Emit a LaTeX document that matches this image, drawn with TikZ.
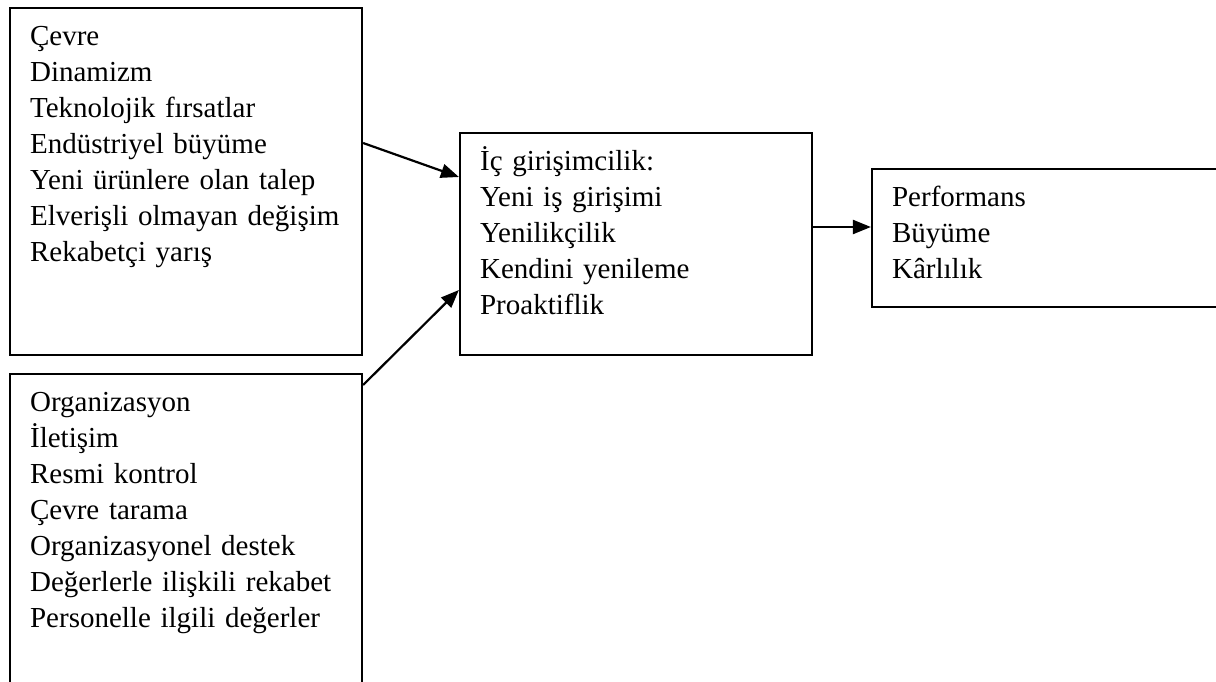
\documentclass[tikz,border=0pt]{standalone}
\usepackage{fontspec}
\setmainfont{Liberation Serif}
\usetikzlibrary{arrows.meta,positioning}
\tikzstyle{kutu} = [draw,line width=2.2pt,rectangle,inner sep=0]
\tikzstyle{metin} = [anchor=base west,inner sep=0,text width=330pt,align=left,font=\fontsize{29pt}{36pt}\selectfont]
\tikzstyle{ok} = [line width=2.2pt,-{Triangle[length=18pt,width=14pt]}]
\def \ic {(21pt,-39pt)}

\begin{document}
\begin{tikzpicture}[x=1pt,y=-1pt]
      \clip (0,0) rectangle (1216,682);
      \fill[white] (0,0) rectangle (1216,682);
      % kutular
      \node[kutu,minimum width=352pt,minimum height=347pt] (env) at (186,181.5) {};
      \node[kutu,minimum width=352pt,minimum height=326pt] (org) at (186,537) {};
      \node[kutu,minimum width=352pt,minimum height=222pt] (icg) at (636,244) {};
      \node[kutu,minimum width=368pt,minimum height=138pt] (perf) at (1056,238) {};
      % metinler
      \node[metin] (envt) at ([shift=\ic]env.north west) {Çevre\\Dinamizm\\Teknolojik fırsatlar\\Endüstriyel büyüme\\Yeni ürünlere olan talep\\Elverişli olmayan değişim\\Rekabetçi yarış};
      \node[metin] (orgt) at ([shift=\ic]org.north west) {Organizasyon\\İletişim\\Resmi kontrol\\Çevre tarama\\Organizasyonel destek\\Değerlerle ilişkili rekabet\\Personelle ilgili değerler};
      \node[metin] (icgt) at ([shift=\ic]icg.north west) {İç girişimcilik:\\Yeni iş girişimi\\Yenilikçilik\\Kendini yenileme\\Proaktiflik};
      \node[metin] (perft) at ([shift=\ic]perf.north west) {Performans\\Büyüme\\Kârlılık};
      % oklar
      \draw[ok] ([yshift=38.5pt]env.east) -- ([yshift=67pt]icg.west);
      \draw[ok] ([yshift=152pt]org.east) -- ([yshift=-46pt]icg.west);
      \draw[ok] ([yshift=17pt]icg.east) -- ([yshift=11pt]perf.west);
    \end{tikzpicture}
\end{document}
